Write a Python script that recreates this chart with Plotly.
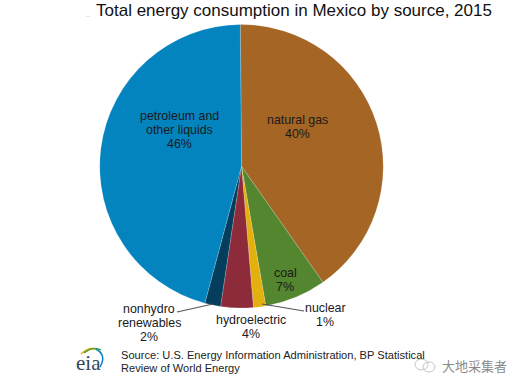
import plotly.graph_objects as go

W, H = 523, 388
title = "Total energy consumption in Mexico by source, 2015"
sources = ["natural gas", "coal", "nuclear", "hydroelectric", "nonhydro renewables", "petroleum and other liquids"]
shares = [40.4, 7.0, 1.4, 3.7, 1.8, 45.7]
colors = ["#A56525", "#53862E", "#E3B00D", "#8E2B3B", "#053D5C", "#0484BF"]
source_lines = ["Source: U.S. Energy Information Administration, BP Statistical", "Review of World Energy"]
watermark = "大地采集者"
FONT = "Liberation Sans, Arial, sans-serif"

fig = go.Figure(go.Pie(
    labels=sources, values=shares, sort=False, direction="clockwise", rotation=-0.5,
    marker=dict(colors=colors, line=dict(color="rgba(255,255,255,0.35)", width=0.5)),
    textinfo="none", hoverinfo="label+percent", showlegend=False,
    domain=dict(x=[98.5/W, 384.5/W], y=[1-308/H, 1-24.5/H]),
))

def note(x, y, text, size=12.4, color="#1a1a1a", anchor="center", family=FONT):
    fig.add_annotation(xref="paper", yref="paper", x=x/W, y=1-y/H, text=text, showarrow=False,
                       font=dict(family=family, size=size, color=color),
                       xanchor=anchor, yanchor="middle")

def block(x, y, lines, step=14, **kw):
    for i, line in enumerate(lines):
        note(x, y + i*step, line, **kw)

def pixel_path(d, line, width=1.2):
    fig.add_shape(type="path", xref="paper", yref="paper", path=d,
                  line=dict(color=line, width=width), layer="above")

def px(x, y):
    return f"{x/W:.4f},{1-y/H:.4f}"

note(293.5, 10, title, size=17, color="#111111")
note(88, 15, "..", size=7, color="#aaaaaa")
block(179, 116, ["petroleum and", "other liquids", "46%"])
block(297, 120, ["natural gas", "40%"])
block(285, 273, ["coal", "7%"])
block(325, 308, ["nuclear", "1%"])
block(250.5, 320, ["hydroelectric", "4%"])
block(149, 309, ["nonhydro", "renewables", "2%"])
block(119, 355, source_lines, step=13, size=11.1, anchor="left", color="#222222")
note(88, 363, "eia", size=21, color="#33475b", family="Liberation Serif, serif")
note(474.5, 365, watermark, size=13, color="#8a8a8a", family="Noto Sans CJK SC, sans-serif")

pixel_path(f"M{px(177,312)} L{px(213,304)}", "#555555")
pixel_path(f"M{px(304,311)} L{px(262,304)}", "#555555")
# eia logo arcs
pixel_path(f"M{px(81,354)} Q{px(88,347)} {px(96,349)}", "#E3B00D", 1.5)
pixel_path(f"M{px(84,353)} Q{px(93,346)} {px(101,350)}", "#53A02E", 1.5)
pixel_path(f"M{px(96,349)} Q{px(107,355)} {px(100,367)}", "#0484BF", 1.5)
# watermark icon
fig.add_shape(type="circle", xref="paper", yref="paper", x0=415/W, x1=428/W, y0=1-370/H, y1=1-359/H,
              line=dict(color="#c4c4c4", width=1))
fig.add_shape(type="circle", xref="paper", yref="paper", x0=423/W, x1=435/W, y0=1-372/H, y1=1-362/H,
              line=dict(color="#c4c4c4", width=1))

fig.update_layout(width=W, height=H, margin=dict(l=0, r=0, t=0, b=0), paper_bgcolor="white")
fig.write_html("out.html", config={"displayModeBar": False},
               post_script="document.body.style.margin='0';")
